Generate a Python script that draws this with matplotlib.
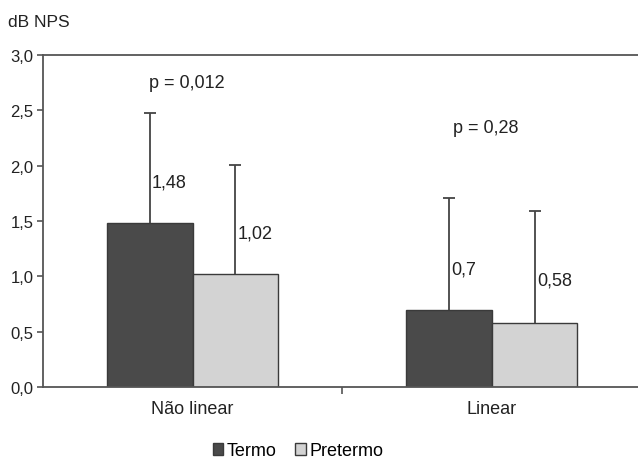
import matplotlib
matplotlib.use("Agg")
import matplotlib.pyplot as plt
import numpy as np

plt.rcParams['font.family'] = ['Liberation Sans', 'DejaVu Sans']

categories = ["Não linear", "Linear"]
series_names = ["Termo", "Pretermo"]
termo = [1.48, 0.70]
pretermo = [1.02, 0.58]
termo_err = [1.00, 1.01]
pretermo_err = [0.99, 1.01]
termo_labels = ["1,48", "0,7"]
pretermo_labels = ["1,02", "0,58"]
p_labels = ["p = 0,012", "p = 0,28"]
p_y = [2.75, 2.35]
yticks = [0.0, 0.5, 1.0, 1.5, 2.0, 2.5, 3.0]
ytick_labels = ["0,0", "0,5", "1,0", "1,5", "2,0", "2,5", "3,0"]

fig = plt.figure(figsize=(6.38, 4.6), dpi=100)
ax = fig.add_axes([0.0674, 0.1565, 1.005 - 0.0674, 0.878 - 0.1565])

x = np.arange(len(categories))
w = 0.287
c_dark = "#4a4a4a"
c_light = "#d3d3d3"
edge = "#3a3a3a"

b1 = ax.bar(x - w / 2, termo, w, color=c_dark, edgecolor=edge, linewidth=1.0, label=series_names[0])
b2 = ax.bar(x + w / 2, pretermo, w, color=c_light, edgecolor=edge, linewidth=1.0, label=series_names[1])

for xs, vals, errs in [(x - w / 2, termo, termo_err), (x + w / 2, pretermo, pretermo_err)]:
    eb = ax.errorbar(xs, vals, yerr=[np.zeros(len(vals)), errs], fmt='none',
                     ecolor="#444444", elinewidth=1.3, capsize=4, capthick=1.3)
    eb[1][0].set_visible(False)

fs = 13
label_y_t = [1.85, 1.07]
label_y_p = [1.39, 0.97]
for i in range(len(categories)):
    ax.text(x[i] - w / 2 + 0.008, label_y_t[i], termo_labels[i], fontsize=fs, va='center', ha='left', color="#222222")
    ax.text(x[i] + w / 2 + 0.008, label_y_p[i], pretermo_labels[i], fontsize=fs, va='center', ha='left', color="#222222")
    ax.text(x[i] - 0.02, p_y[i], p_labels[i], fontsize=fs, va='center', ha='center', color="#222222")

ax.set_xlim(-0.5, 1.5)
ax.set_ylim(0, 3.0)
ax.set_yticks(yticks)
ax.set_yticklabels(ytick_labels, fontsize=12, color="#222222")
ax.set_xticks(x)
ax.set_xticklabels(categories, fontsize=13, color="#222222")
ax.tick_params(axis='x', which='major', length=0, pad=9)
ax.set_xticks([0.5], minor=True)
ax.tick_params(axis='x', which='minor', length=5, width=1.2, color="#555555")
ax.tick_params(axis='y', length=4, width=1.2, color="#555555", pad=3)

for s in ['left', 'bottom', 'top']:
    ax.spines[s].set_color("#555555")
    ax.spines[s].set_linewidth(1.3)
ax.spines['right'].set_visible(False)

fig.text(0.013, 0.952, "dB NPS", fontsize=12.5, ha='left', va='center', color="#222222")

fig.legend(handles=[b1, b2], labels=series_names, loc='center', bbox_to_anchor=(0.467, 0.018),
           ncol=2, frameon=False, fontsize=13, handlelength=0.6, handleheight=0.6,
           handletextpad=0.2, columnspacing=1.0, borderpad=0)

fig.savefig("out.png", dpi=100)
